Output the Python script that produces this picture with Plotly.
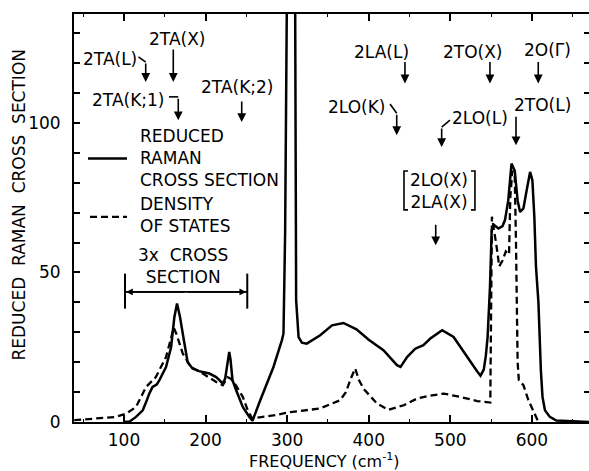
import plotly.graph_objects as go

# ---------------- data ----------------
freq_raman = [100, 107, 114.7, 123, 128, 131, 135, 140, 143.4, 151.5, 157.7, 161.7, 165, 168.7, 172,
              178, 184, 192, 204.7, 213, 217, 221, 224, 227, 229, 230.5, 233, 237.5, 245.6, 253.7,
              257.5, 266.9, 283.2, 293.5, 295.5, 297.5, 299.6, 302, 307, 309.8, 311, 314, 318, 324,
              340.5, 355, 369, 385, 400, 418, 434.6, 439, 447, 457, 467, 475.5, 490, 504, 520.5,
              532.8, 537, 541, 543.5, 545.7, 548.6, 550.7, 553, 559, 564, 567, 571, 575, 579, 582.5,
              585.5, 589.6, 593.6, 597.8, 600.6, 603, 605, 608, 611, 613, 616, 622, 630, 670]
raman = [0, 0.2, 1.7, 3.9, 7.3, 9.5, 11.7, 12.5, 14, 18.4, 25, 35, 39.6, 35, 29.6,
         20, 17.9, 17, 16.2, 15, 14, 12.8, 14.5, 21, 23.4, 21, 14, 10.6, 5, 1.7,
         0.4, 7.2, 18.4, 27.3, 29.6, 63, 140, 190, 190, 140, 40.7, 28.4, 26.5, 26.2,
         29, 32.3, 33.1, 31, 27.5, 24, 19, 18.4, 21.7, 24.5, 25.7, 27.9, 30.7, 28.4, 21.7,
         17, 15.5, 17.5, 22, 28.4, 45, 64, 66, 64.7, 65.5, 67.5, 74, 86.4, 84, 74,
         70.2, 71.4, 77.5, 83.6, 80.8, 68.6, 52, 40, 17.3, 8.4, 3.9, 1.7, 0.5, 0]

freq_dos = [39, 66, 90, 102.5, 114.7, 127, 139, 151.5, 157, 161, 164, 172, 182, 196.5, 213, 221,
            225, 227, 231, 237, 245.6, 251.7, 257, 270, 283, 304, 340, 365, 372, 378, 383.4, 388,
            394, 410, 424, 443, 459, 473, 492, 512, 533, 549, 550, 551, 556.8, 560, 564, 568, 572,
            573.5, 576, 579, 580.5, 582.5, 584, 589.6, 595.7, 601.8, 606, 608]
dos = [0.6, 1.1, 1.7, 2.8, 5, 11.7, 15, 21.7, 27, 31.5, 29.6, 22.9, 18.4, 16.2, 13.4, 12.3,
       14, 15, 14.5, 12.3, 8.4, 3.9, 1.2, 1.7, 2.2, 3.3, 4.5, 7.3, 10, 14.5, 17.9, 14,
       11, 6.2, 4.1, 5.6, 7.8, 8.7, 9.5, 8.4, 7, 6.5, 40, 68.6, 58.5, 52, 54, 57, 56,
       75, 84, 82, 60, 20, 14, 12.3, 7.3, 3.9, 1.1, 0]

x_tickvals = [100, 200, 300, 400, 500, 600]
x_minor = [50, 150, 250, 350, 450, 550, 650]
y_tickvals = [0, 10, 20, 30, 40, 50, 60, 70, 80, 90, 100, 110, 120, 130]
y_ticktext = ["0", "", "", "", "", "50", "", "", "", "", "100", "", "", ""]

assert len(freq_raman) == len(raman)
assert len(freq_dos) == len(dos)

FONT = "DejaVu Sans"
FS = 17

fig = go.Figure()
fig.add_trace(go.Scatter(x=freq_dos, y=dos, mode="lines",
                         line=dict(color="black", width=2.3, dash="7px,4px"),
                         hoverinfo="skip", showlegend=False))
fig.add_trace(go.Scatter(x=freq_raman, y=raman, mode="lines",
                         line=dict(color="black", width=2.5),
                         hoverinfo="skip", showlegend=False))
# invisible trace to carry the right-hand tick axis
fig.add_trace(go.Scatter(x=[freq_dos[0]], y=[0], yaxis="y2", mode="markers",
                         marker=dict(opacity=0), hoverinfo="skip", showlegend=False))

labels = [
    ("2TA(L)", 82.8, 121.5), ("2TA(X)", 165, 127.9), ("2TA(K;1)", 104.9, 107.6),
    ("2TA(K;2)", 238.1, 112), ("2LA(L)", 415.4, 123.7), ("2TO(X)", 527.2, 123.7),
    ("2O(Γ)", 619.7, 124.3), ("2LO(K)", 384.4, 105.4), ("2TO(L)", 613.6, 105.9),
    ("2LO(L)", 536.4, 101.5), ("2LO(X)<br>2LA(X)", 486.1, 77.2),
    ("3x  CROSS<br>SECTION", 172.9, 52.1),
]
ann = []
for t, x, y in labels:
    ann.append(dict(x=x, y=y, xref="x", yref="y", text=t, showarrow=False,
                    xanchor="center", yanchor="middle", font=dict(family=FONT, size=FS, color="black")))
# legend texts
ann.append(dict(x=117.5, y=88.3, xref="x", yref="y", text="REDUCED<br>RAMAN<br>CROSS SECTION",
                showarrow=False, xanchor="left", yanchor="middle", align="left",
                font=dict(family=FONT, size=FS, color="black")))
ann.append(dict(x=117.5, y=69.1, xref="x", yref="y", text="DENSITY<br>OF STATES",
                showarrow=False, xanchor="left", yanchor="middle", align="left",
                font=dict(family=FONT, size=FS, color="black")))

arrows = [  # tip x, tip y, tail length (px)
    (126.6, 113.7, 20), (160.4, 113.7, 34), (166.5, 100.9, 23), (244.3, 100.3, 22),
    (444.4, 113.2, 23), (548.6, 113.2, 23), (607.8, 113.2, 23), (434.3, 95.9, 22),
    (580.5, 92.5, 30), (489.4, 91.9, 20), (482.1, 59.1, 22),
]
for x, y, L in arrows:
    ann.append(dict(x=x, y=y, xref="x", yref="y", ax=0, ay=-L, text="", showarrow=True,
                    arrowhead=2, arrowsize=1.1, arrowwidth=1.6, arrowcolor="black",
                    standoff=0, startstandoff=0))
# double arrow of "3x cross section"
for tip in (102.5, 249.8):
    ann.append(dict(x=tip, y=43.5, xref="x", yref="y", ax=176, ay=43.5, axref="x", ayref="y",
                    text="", showarrow=True, arrowhead=2, arrowsize=0.9, arrowwidth=1.5,
                    arrowcolor="black", standoff=0, startstandoff=0))
# axis titles
ann.append(dict(x=0.487, y=0, xref="paper", yref="paper", yshift=-38, text="FREQUENCY (cm<sup>-1</sup>)",
                showarrow=False, xanchor="center", yanchor="middle",
                font=dict(family=FONT, size=16, color="black")))
ann.append(dict(x=-0.106, y=0.534, xref="paper", yref="paper", text="REDUCED  RAMAN  CROSS  SECTION",
                showarrow=False, xanchor="center", yanchor="middle", textangle=-90,
                font=dict(family=FONT, size=FS, color="black")))

ln = dict(color="black", width=1.6)
shapes = [
    # hooks
    dict(type="line", xref="x", yref="y", x0=117.7, y0=122.1, x1=126.6, y1=120.3, line=ln),
    dict(type="line", xref="x", yref="y", x0=155.1, y0=108.7, x1=166.5, y1=108.7, line=ln),
    dict(type="line", xref="x", yref="y", x0=426.1, y0=106.3, x1=434.3, y1=103.2, line=ln),
    dict(type="line", xref="x", yref="y", x0=499.6, y0=100.9, x1=489.4, y1=98.6, line=ln),
    # brackets
    dict(type="path", xref="x", yref="y", path="M 448.1 83.9 L 443.2 83.9 L 443.2 70.9 L 448.1 70.9", line=ln),
    dict(type="path", xref="x", yref="y", path="M 525.3 83.9 L 530.2 83.9 L 530.2 70.9 L 525.3 70.9", line=ln),
    # 3x cross section bar
    dict(type="line", xref="x", yref="y", x0=101.2, y0=43.5, x1=251.1, y1=43.5, line=ln),
    dict(type="line", xref="x", yref="y", x0=101.2, y0=37.9, x1=101.2, y1=49.6, line=dict(color="black", width=2)),
    dict(type="line", xref="x", yref="y", x0=251.1, y0=37.9, x1=251.1, y1=49.6, line=dict(color="black", width=2)),
    # legend samples
    dict(type="line", xref="x", yref="y", x0=55.9, y0=88.1, x1=103.7, y1=88.1, line=dict(color="black", width=2.3)),
    dict(type="line", xref="x", yref="y", x0=58.3, y0=68.6, x1=103.7, y1=68.6,
         line=dict(color="black", width=2.3, dash="7px,4px")),
]

fig.update_layout(
    width=589, height=471,
    margin=dict(l=74, r=0, t=14, b=49),
    paper_bgcolor="white", plot_bgcolor="white",
    font=dict(family=FONT, size=FS, color="black"),
    showlegend=False,
    annotations=ann, shapes=shapes,
    xaxis=dict(range=[38.7, 670], tickmode="array", tickvals=x_tickvals,
               ticks="inside", ticklen=7, tickwidth=1.5, tickcolor="black",
               showline=True, linewidth=2, linecolor="black", mirror="ticks",
               showgrid=False, zeroline=False, ticklabelstandoff=2,
               tickfont=dict(family=FONT, size=FS, color="black"),
               minor=dict(tickmode="array", tickvals=x_minor, ticks="inside", ticklen=3,
                          tickwidth=1, tickcolor="black", showgrid=False)),
    yaxis=dict(range=[0, 136.4], tickmode="array", tickvals=y_tickvals, ticktext=y_ticktext,
               ticks="inside", ticklen=6, tickwidth=1.5, tickcolor="black",
               showline=True, linewidth=2, linecolor="black", mirror=False,
               showgrid=False, zeroline=False, ticklabelstandoff=8,
               tickfont=dict(family=FONT, size=FS, color="black")),
    yaxis2=dict(range=[0, 136.4], overlaying="y", side="right", tickmode="array",
                tickvals=y_tickvals, ticks="inside", ticklen=5, tickwidth=1.5, tickcolor="black",
                showticklabels=False, showline=False, showgrid=False, zeroline=False),
)

fig.write_html("out.html")
